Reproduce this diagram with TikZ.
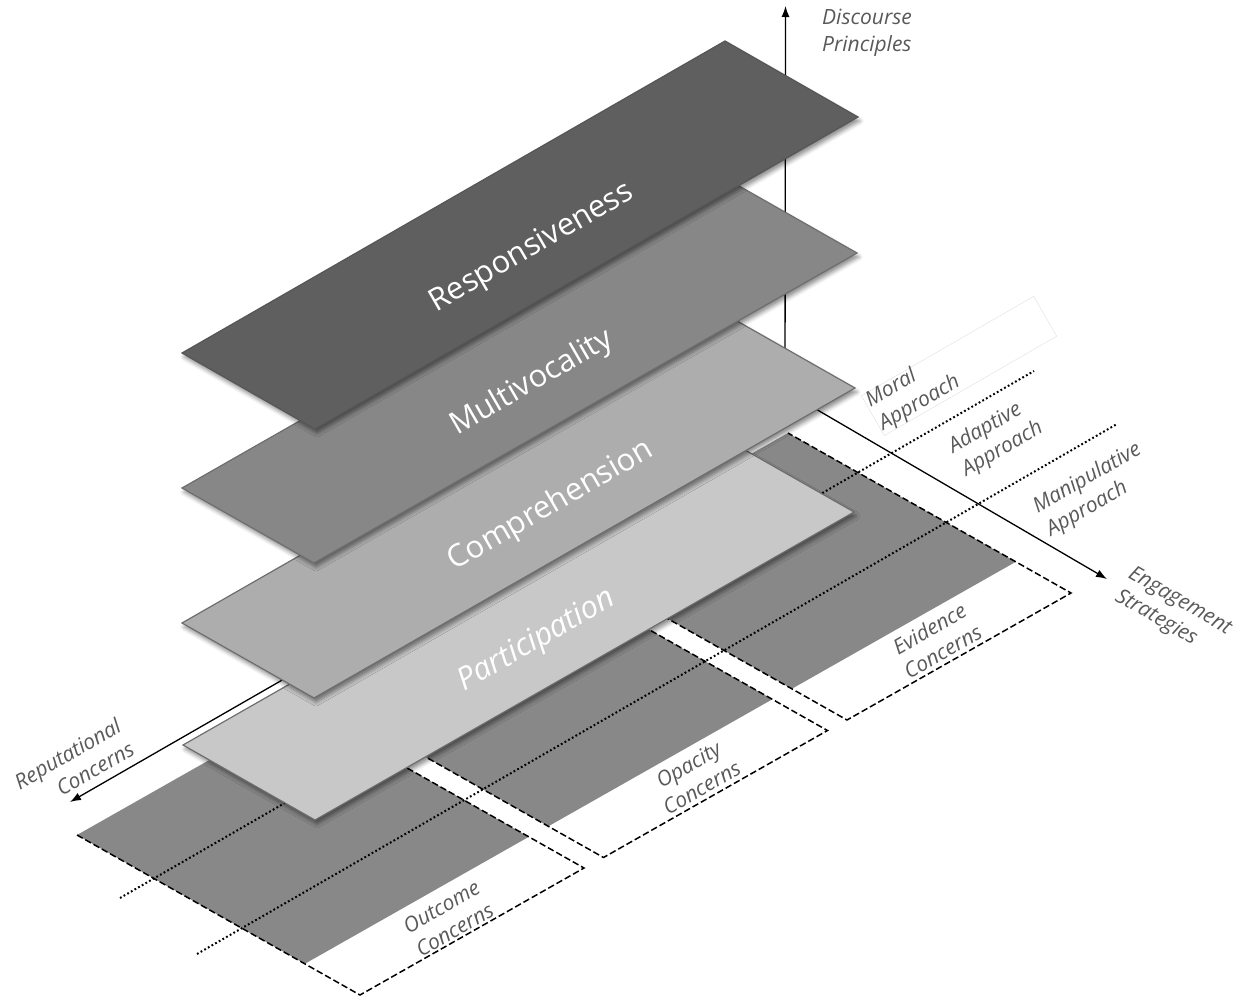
\documentclass[tikz,border=0pt]{standalone}
\usepackage{fontspec}
\setmainfont{Open Sans}
\usetikzlibrary{arrows.meta,shadows.blur,calc}

\definecolor{resp}{HTML}{5F5F5F}
\definecolor{multi}{HTML}{878787}
\definecolor{comp}{HTML}{ADADAD}
\definecolor{part}{HTML}{C8C8C8}
\definecolor{basegray}{HTML}{888888}
\definecolor{lbl}{HTML}{595959}
\definecolor{edgegray}{HTML}{6E6E6E}

\begin{document}
\begin{tikzpicture}[x=1pt,y=-1pt,
  layer/.style={draw=edgegray, line width=1.2pt, line join=miter,
    blur shadow={shadow xshift=2pt, shadow yshift=-4pt, shadow blur radius=4pt, shadow opacity=45}},
  laylbl/.style={text=white, rotate=30, font=\fontsize{31}{37}\selectfont, inner sep=0pt},
  axlbl/.style={text=lbl, font=\fontsize{21}{26.5}\selectfont\itshape, inner sep=0pt},
  axisline/.style={line width=1.3pt, -{Latex[length=11pt,width=8pt]}},
  regionedge/.style={dash pattern=on 6.5pt off 3pt, line width=1.5pt},
  sepline/.style={dash pattern=on 1.8pt off 2.4pt, line width=2pt},
]
\useasboundingbox (0,0) rectangle (1247,1004);

% concern regions
\foreach \i in {0,1,2} {
  \pgfmathsetmacro\bx{360+243.5*\i}
  \pgfmathsetmacro\by{995-137.5*\i}
  \coordinate (bl\i) at (\bx,\by);
  \coordinate (br\i) at (\bx+224,\by-127);
  \coordinate (tl\i) at (\bx-283,\by-160);
  \coordinate (tr\i) at (\bx-59,\by-287);
  \fill[basegray] (tl\i) -- ($(tl\i)!0.805!(bl\i)$) -- ($(tr\i)!0.805!(br\i)$) -- (tr\i) -- cycle;
  \draw[regionedge] (tl\i) -- (bl\i) -- (br\i) -- (tr\i);
}

% approach separators
\coordinate (d1a) at (120,898);
\coordinate (d1b) at (1034,371);
\coordinate (d2a) at (197,954);
\coordinate (d2b) at (1117,424);
\draw[sepline] (d1a) -- (d1b);
\draw[sepline] (d2a) -- (d2b);

% axes
\coordinate (O) at (785,391);
\coordinate (up) at (785.5,6);
\coordinate (eng) at (1107,579);
\coordinate (rep) at (70,802);
\draw[axisline] (O) -- (up);
\draw[axisline] (O) -- (eng);
\draw[axisline] (O) -- (rep);

% layers
\coordinate (pL) at (183,745); \coordinate (pB) at (315,820); \coordinate (pR) at (854,512); \coordinate (pT) at (722,437);
\coordinate (cL) at (182,623); \coordinate (cB) at (314,698); \coordinate (cR) at (855,388); \coordinate (cT) at (723,313);
\coordinate (mL) at (182,488); \coordinate (mB) at (314,563); \coordinate (mR) at (857,253); \coordinate (mT) at (725,178);
\coordinate (rL) at (182,353); \coordinate (rB) at (315,429); \coordinate (rR) at (858,117); \coordinate (rT) at (725,41);
\fill[part,layer] (pL) -- (pB) -- (pR) -- (pT) -- cycle;
\fill[comp,layer] (cL) -- (cB) -- (cR) -- (cT) -- cycle;
\fill[multi,layer] (mL) -- (mB) -- (mR) -- (mT) -- cycle;
\fill[resp,layer,draw=resp!90!black] (rL) -- (rB) -- (rR) -- (rT) -- cycle;

\node[laylbl] (tresp) at (532,248) {Responsiveness};
\node[laylbl] (tmulti) at (532,383) {Multivocality};
\node[laylbl] (tcomp) at (551,506) {Comprehension};
\node[laylbl, font=\fontsize{31}{37}\selectfont\itshape] (tpart) at (537,641) {Participation};

% moral text box
\node[draw=gray!25, line width=0.4pt, rotate=30, minimum width=199pt, minimum height=46pt, inner sep=0pt] (mbox) at (959,366) {};

% labels
\node[axlbl, align=left, anchor=north west] (tdisc) at (822,9) {Discourse\\Principles};
\node[axlbl, align=left, rotate=-30] (teng) at (1173,613) {Engagement\\Strategies};
\node[axlbl, align=right, rotate=30] (trep) at (74,765) {Reputational\\Concerns};
\node[axlbl, align=left, rotate=30] (tmor) at (913,392) {Moral\\Approach};
\node[axlbl, align=left, rotate=30] (tada) at (996,438) {Adaptive\\Approach};
\node[axlbl, align=left, rotate=30] (tman) at (1094,490) {Manipulative\\Approach};
\node[axlbl, align=center, rotate=30] (tevi) at (936,640) {Evidence\\Concerns};
\node[axlbl, align=center, rotate=30] (topa) at (695,776) {Opacity\\Concerns};
\node[axlbl, align=center, rotate=30] (tout) at (448,918) {Outcome\\Concerns};
\end{tikzpicture}
\end{document}
